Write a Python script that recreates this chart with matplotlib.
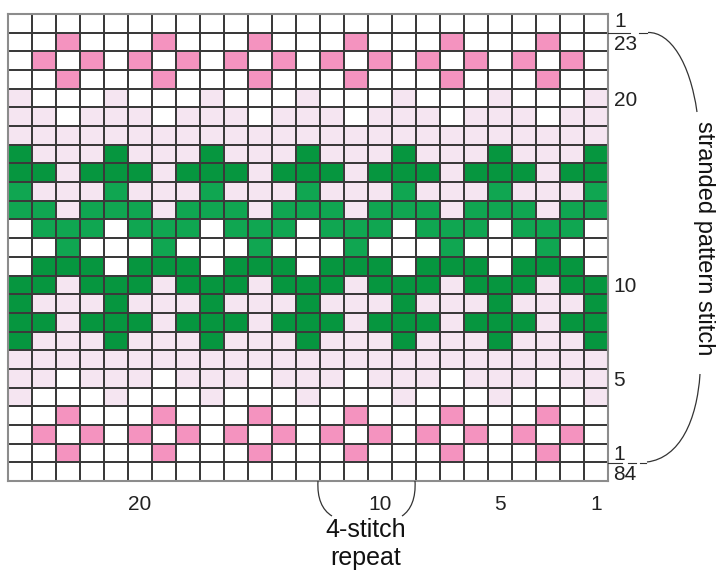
"""Stranded colourwork chart: 25 stitches x 25 rows, 4-stitch repeat."""
import matplotlib
matplotlib.use("Agg")
import matplotlib.pyplot as plt
import numpy as np
from matplotlib.colors import ListedColormap
from matplotlib.path import Path
from matplotlib.patches import PathPatch

plt.rcParams["font.family"] = ["Liberation Sans Narrow", "Liberation Sans", "DejaVu Sans"]

# === 차트 데이터 (위에서 아래로) ===
# w=white, p=pink, l=light pink, g=dark green, m=medium green
chart_rows = [
    "wwwwwwwwwwwwwwwwwwwwwwwww",
    "wwpwwwpwwwpwwwpwwwpwwwpww",
    "wpwpwpwpwpwpwpwpwpwpwpwpw",
    "wwpwwwpwwwpwwwpwwwpwwwpww",
    "lwwwlwwwlwwwlwwwlwwwlwwwl",
    "llwlllwlllwlllwlllwlllwll",
    "lllllllllllllllllllllllll",
    "glllglllglllglllglllglllg",
    "gglggglggglggglggglggglgg",
    "mlllmlllmlllmlllmlllmlllm",
    "mmlmmmlmmmlmmmlmmmlmmmlmm",
    "wmmmwmmmwmmmwmmmwmmmwmmmw",
    "wwmwwwmwwwmwwwmwwwmwwwmww",
    "wgggwgggwgggwgggwgggwgggw",
    "gglggglggglggglggglggglgg",
    "glllglllglllglllglllglllg",
    "gglggglggglggglggglggglgg",
    "glllglllglllglllglllglllg",
    "lllllllllllllllllllllllll",
    "llwlllwlllwlllwlllwlllwll",
    "lwwwlwwwlwwwlwwwlwwwlwwwl",
    "wwpwwwpwwwpwwwpwwwpwwwpww",
    "wpwpwpwpwpwpwpwpwpwpwpwpw",
    "wwpwwwpwwwpwwwpwwwpwwwpww",
    "wwwwwwwwwwwwwwwwwwwwwwwww",
]
color_codes = ["w", "p", "l", "g", "m"]
color_values = ["#ffffff", "#f493bf", "#f5e5f1", "#06963f", "#10a651"]

col_label_nums = [20, 10, 5, 1]     # 오른쪽부터 번호
row_label_nums = [23, 20, 10, 5, 1]  # 아래쪽부터 번호 (패턴 행)
top_label = "1"
bottom_label = "84"

grid = np.array([[color_codes.index(c) for c in r] for r in chart_rows])
n_rows, n_cols = grid.shape

fig = plt.figure(figsize=(7.17, 5.76), dpi=100)
ax = fig.add_axes([8 / 717, 1 - 481 / 576, 600 / 717, 467 / 576])
ax.pcolormesh(np.arange(n_cols + 1), np.arange(n_rows + 1), grid,
              cmap=ListedColormap(color_values), vmin=-0.5, vmax=len(color_values) - 0.5,
              edgecolors="#3a3a3a", linewidth=1.1)
ax.set_xlim(0, n_cols)
ax.set_ylim(n_rows, 0)
for s in ax.spines.values():
    s.set_color("#8c8c8c")
    s.set_linewidth(1.5)

ax.set_xticks([n_cols - n + 0.5 for n in col_label_nums])
ax.set_xticklabels([str(n) for n in col_label_nums])
ax.tick_params(axis="x", length=0, pad=10, labelsize=15, colors="#222222")
ax.yaxis.tick_right()
ax.set_yticks([n_rows - 1 - r + 0.5 for r in row_label_nums])
ax.set_yticklabels([str(r) for r in row_label_nums])
ax.tick_params(axis="y", length=0, pad=4, labelsize=15, colors="#222222")
ax.text(n_cols + 0.25, 0.42, top_label, ha="left", va="center", fontsize=15, color="#222222")
ax.text(n_cols + 0.2, n_rows - 0.35, bottom_label, ha="left", va="center", fontsize=15, color="#222222")

# === 주석 (픽셀 좌표 오버레이) ===
ov = fig.add_axes([0, 0, 1, 1], zorder=3)
ov.set_xlim(0, 717)
ov.set_ylim(576, 0)
ov.axis("off")
ov.patch.set_alpha(0)

lc = "#333333"


def curve(pts):
    codes = [Path.MOVETO, Path.CURVE4, Path.CURVE4, Path.CURVE4]
    ov.add_patch(PathPatch(Path(pts, codes), fill=False, edgecolor=lc, linewidth=0.9))


# 오른쪽 괄호
ov.plot([608, 630], [32.5, 32.5], color=lc, lw=0.8)
ov.plot([639, 647], [32.5, 32.5], color=lc, lw=0.8)
curve([(648, 32.5), (670, 32), (690, 62), (697, 112)])
ov.plot([608, 622], [463, 463], color=lc, lw=0.8)
ov.plot([628, 636], [463, 463], color=lc, lw=0.8)
ov.plot([640, 646], [463, 463], color=lc, lw=0.8)
curve([(647, 462), (680, 458), (697, 420), (700, 374)])
ov.text(704, 238, "stranded pattern stitch", rotation=-90, ha="center", va="center",
        fontsize=17, color="#111111")

# 아래 괄호
curve([(318, 481), (317, 498), (322, 510), (332, 516)])
curve([(415, 481), (416, 498), (411, 510), (402, 516)])
ov.text(366, 530, "4-stitch", ha="center", va="center", fontsize=18, color="#111111")
ov.text(366, 558, "repeat", ha="center", va="center", fontsize=18, color="#111111")

fig.savefig("out.png", dpi=100)
